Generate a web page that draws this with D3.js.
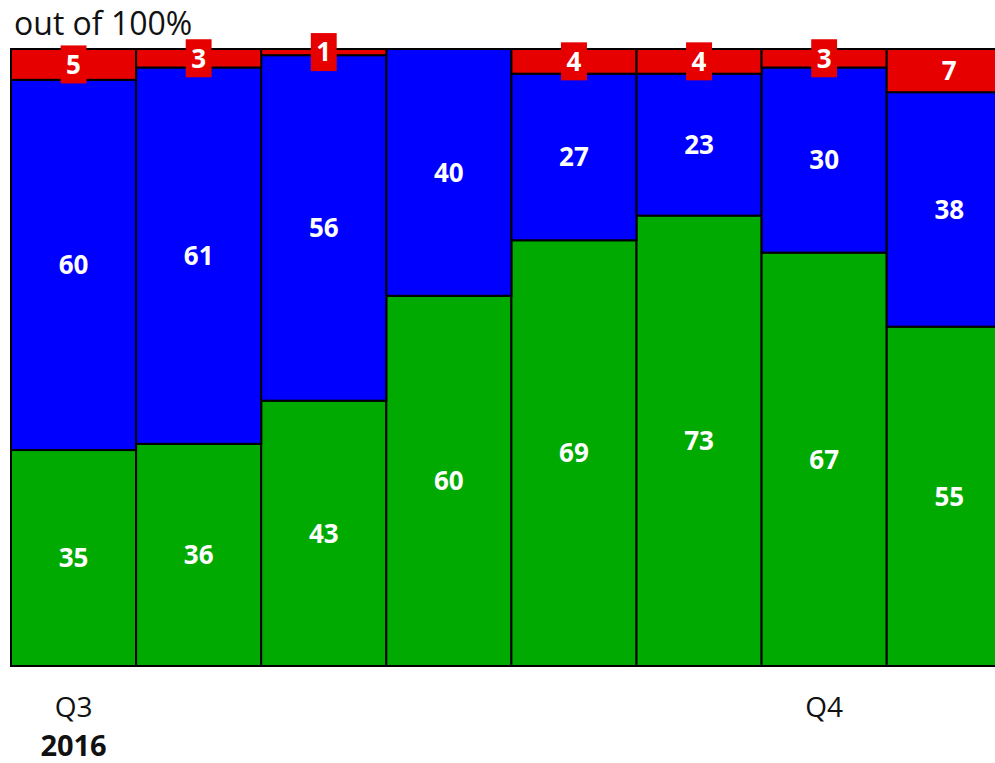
<!DOCTYPE html>
<html>
<head>
<meta charset="utf-8">
<script src="https://cdn.jsdelivr.net/npm/d3@7"></script>
<style>
  html, body { margin: 0; padding: 0; background: #fff; overflow: hidden; }
  svg { display: block; }
</style>
</head>
<body>
<svg id="chart" width="995" height="763"></svg>
<script>
// ---- data ----
const categories = ["c1", "c2", "c3", "c4", "c5", "c6", "c7", "c8"];
const quarterLabels = ["Q3", "", "", "", "", "", "Q4", ""];
const yearLabels = ["2016", "", "", "", "", "", "", ""];
const seriesNames = ["green", "blue", "red"];
const greenValues = [35, 36, 43, 60, 69, 73, 67, 55];
const blueValues  = [60, 61, 56, 40, 27, 23, 30, 38];
const redValues   = [5, 3, 1, 0, 4, 4, 3, 7];
const yTitle = "out of 100%";

// ---- setup ----
const colors = { green: "#00AA00", blue: "#0000FF", red: "#E60000" };
const svg = d3.select("#chart");
const margin = { left: 11, top: 49, bottom: 97 };
const H = 763;
const bandW = 125.1;

const table = categories.map((c, i) => ({
  cat: c, green: greenValues[i], blue: blueValues[i], red: redValues[i]
}));

const x = d3.scaleBand()
  .domain(categories)
  .range([margin.left, margin.left + bandW * categories.length])
  .padding(0);

const y = d3.scaleLinear().domain([0, 100]).range([H - margin.bottom, margin.top]);

const stack = d3.stack().keys(seriesNames);
const layers = stack(table);

const font = "'Open Sans', 'DejaVu Sans', sans-serif";

// bars
const g = svg.append("g");
layers.forEach(layer => {
  g.selectAll(null)
    .data(layer)
    .enter()
    .append("rect")
    .attr("x", d => x(d.data.cat))
    .attr("width", x.bandwidth())
    .attr("y", d => y(d[1]))
    .attr("height", d => y(d[0]) - y(d[1]))
    .attr("fill", colors[layer.key])
    .attr("stroke", "#000")
    .attr("stroke-width", 2);
});

// labels with series-coloured boxes
const lg = svg.append("g");
layers.forEach(layer => {
  layer.forEach(d => {
    const v = d.data[layer.key];
    if (!v) return;
    const cx = x(d.data.cat) + x.bandwidth() / 2;
    const cy = (y(d[0]) + y(d[1])) / 2;
    const t = lg.append("text")
      .attr("x", cx)
      .attr("y", cy)
      .attr("dy", "0.36em")
      .attr("text-anchor", "middle")
      .attr("font-family", font)
      .attr("font-weight", "bold")
      .attr("font-size", 26)
      .attr("fill", "#fff")
      .text(v);
    const bb = t.node().getBBox();
    lg.insert("rect", () => t.node())
      .attr("x", cx - (bb.width + 11) / 2)
      .attr("y", cy - 19)
      .attr("width", bb.width + 11)
      .attr("height", 38)
      .attr("fill", colors[layer.key]);
  });
});

// y title
svg.append("text")
  .attr("x", 14)
  .attr("y", 35)
  .attr("font-family", font)
  .attr("font-size", 32)
  .attr("fill", "#111")
  .text(yTitle);

// x axis labels
const xAxis = svg.append("g");
categories.forEach((c, i) => {
  const cx = x(c) + x.bandwidth() / 2;
  if (quarterLabels[i]) {
    xAxis.append("text")
      .attr("x", cx).attr("y", 717)
      .attr("text-anchor", "middle")
      .attr("font-family", font)
      .attr("font-size", 28)
      .attr("fill", "#111")
      .text(quarterLabels[i]);
  }
  if (yearLabels[i]) {
    xAxis.append("text")
      .attr("x", cx).attr("y", 756)
      .attr("text-anchor", "middle")
      .attr("font-family", font)
      .attr("font-weight", "bold")
      .attr("font-size", 29)
      .attr("fill", "#111")
      .text(yearLabels[i]);
  }
});
</script>
</body>
</html>
